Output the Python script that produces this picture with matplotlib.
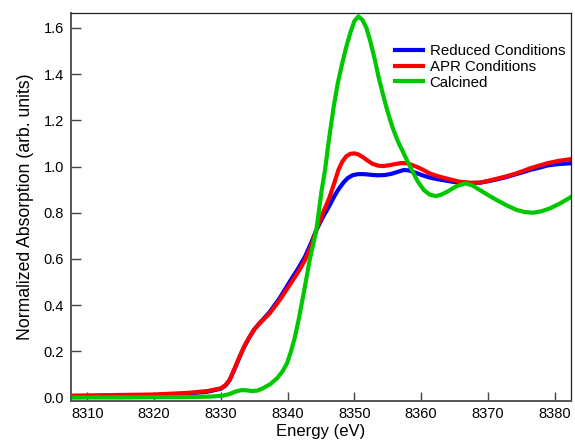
import matplotlib
matplotlib.use("Agg")
import matplotlib.pyplot as plt
from matplotlib.ticker import FormatStrFormatter

plt.rcParams['font.family'] = ['Liberation Sans', 'DejaVu Sans']

E_blue = [8307.5, 8310, 8315, 8320, 8325, 8328, 8330, 8330.7, 8331.3, 8332, 8332.8, 8333.5,
          8334.3, 8335, 8335.8, 8337.3, 8338.8, 8340.3, 8341.5, 8342.6, 8343.5, 8344.3, 8345.3,
          8346.3, 8347, 8347.7, 8348.4, 8349, 8349.7, 8350.5, 8351.5, 8352.5, 8353.5, 8354.5,
          8355.5, 8356.5, 8357.4, 8358.2, 8359, 8360.2, 8361.3, 8362.5, 8363.5, 8364.7,
          8365.8, 8367.3, 8368.8, 8370, 8371.3, 8372.7, 8374, 8375.2, 8376.3, 8377.7, 8379,
          8380.7, 8382.4]
A_blue = [0.005, 0.006, 0.008, 0.010, 0.017, 0.025, 0.038, 0.052, 0.075, 0.120, 0.175, 0.220,
          0.262, 0.295, 0.322, 0.370, 0.430, 0.501, 0.555, 0.610, 0.668, 0.725, 0.782,
          0.833, 0.872, 0.905, 0.932, 0.950, 0.962, 0.967, 0.967, 0.964, 0.962, 0.963,
          0.968, 0.977, 0.985, 0.983, 0.975, 0.962, 0.952, 0.945, 0.940, 0.934,
          0.930, 0.928, 0.930, 0.936, 0.944, 0.954, 0.965, 0.975, 0.985, 0.995, 1.005,
          1.011, 1.014]

E_red = [8307.5, 8310, 8315, 8320, 8325, 8328, 8330, 8330.7, 8331.3, 8332, 8332.8, 8333.5,
         8334.3, 8335, 8335.8, 8337.3, 8338.8, 8340.3, 8341.5, 8342.6, 8343.5, 8344.3, 8345.3,
         8346.3, 8347, 8347.6, 8348.2, 8348.8, 8349.4, 8350, 8350.6, 8351.3, 8352, 8352.7,
         8353.5, 8354.3, 8355.1, 8356, 8357, 8357.8, 8358.5, 8359.3, 8360, 8361.3, 8362.3,
         8363.3, 8364.5, 8365.8, 8367.3, 8368.8, 8370, 8371.3, 8372.7, 8374, 8375.2, 8376.3,
         8377.7, 8379, 8380.7, 8382.4]
A_red = [0.008, 0.009, 0.011, 0.013, 0.020, 0.028, 0.040, 0.054, 0.076, 0.122, 0.177, 0.222,
         0.263, 0.295, 0.321, 0.364, 0.422, 0.487, 0.540, 0.595, 0.655, 0.725, 0.800,
         0.869, 0.930, 0.985, 1.022, 1.045, 1.055, 1.057, 1.052, 1.040, 1.025, 1.012,
         1.004, 1.002, 1.005, 1.010, 1.015, 1.014, 1.008, 0.999, 0.990, 0.970, 0.960,
         0.952, 0.943, 0.934, 0.930, 0.930, 0.938, 0.947, 0.957, 0.968, 0.980, 0.992,
         1.004, 1.015, 1.025, 1.032]

E_green = [8307.5, 8315, 8325, 8328.5, 8330.3, 8331.3, 8332.2, 8333.1, 8333.9, 8334.6, 8335.5,
           8336.3, 8337.4, 8338.4, 8339.2, 8339.9, 8340.5, 8341.1, 8341.7, 8342.3, 8342.8,
           8343.3, 8343.8, 8344.3, 8345.1, 8345.6, 8346.2, 8346.9, 8347.5, 8348.2, 8348.8,
           8349.4, 8350.0, 8350.6, 8351.2, 8351.8, 8352.4, 8353.0, 8353.6, 8354.3, 8354.9,
           8355.7, 8356.5, 8357.5, 8358.5, 8359.5, 8360.4, 8361.3, 8362.2, 8363.0, 8363.9,
           8365.3, 8366.6, 8367.7, 8368.8, 8370.0, 8371.3, 8372.8, 8374.3, 8375.5, 8376.8,
           8378.0, 8379.3, 8380.8, 8382.4]
A_green = [0.000, 0.000, 0.002, 0.004, 0.008, 0.015, 0.026, 0.032, 0.031, 0.028, 0.030,
           0.040, 0.058, 0.083, 0.112, 0.148, 0.200, 0.263, 0.345, 0.436, 0.515,
           0.595, 0.660, 0.725, 0.898, 0.985, 1.120, 1.260, 1.360, 1.450, 1.520,
           1.580, 1.630, 1.650, 1.635, 1.600, 1.540, 1.470, 1.390, 1.310, 1.245,
           1.170, 1.110, 1.050, 0.990, 0.935, 0.898, 0.878, 0.872, 0.878, 0.891,
           0.915, 0.927, 0.918, 0.898, 0.877, 0.855, 0.832, 0.812, 0.803, 0.800,
           0.806, 0.819, 0.840, 0.867]

series = [
    ("Reduced Conditions", E_blue, A_blue, "#0000ff"),
    ("APR Conditions", E_red, A_red, "#ff0000"),
    ("Calcined", E_green, A_green, "#00c800"),
]

x_ticks = [8310, 8320, 8330, 8340, 8350, 8360, 8370, 8380]
y_ticks = [0.0, 0.2, 0.4, 0.6, 0.8, 1.0, 1.2, 1.4, 1.6]

fig = plt.figure(figsize=(5.75, 4.46), dpi=100)
ax = fig.add_axes([0.123, 0.102, 0.8695, 0.868])

for label, e, a, c in series:
    ax.plot(e, a, color=c, lw=3.0, label=label, solid_joinstyle='round')

ax.set_xlim(8307.5, 8382.4)
ax.set_ylim(-0.013, 1.663)
ax.set_xticks(x_ticks)
ax.set_yticks(y_ticks)
ax.yaxis.set_major_formatter(FormatStrFormatter('%.1f'))
ax.tick_params(direction='in', length=7, width=1.0, color='#444444', labelsize=10.5, pad=5)
ax.tick_params(axis='x', length=6.5)

for s in ['left', 'bottom']:
    ax.spines[s].set_color('#555555')
    ax.spines[s].set_linewidth(1.4)
for s in ['top', 'right']:
    ax.spines[s].set_color('#222222')
    ax.spines[s].set_linewidth(0.9)

ax.set_xlabel("Energy (eV)", fontsize=12, labelpad=2)
ax.set_ylabel("Normalized Absorption (arb. units)", fontsize=12.7, labelpad=7)

ax.legend(loc='upper left', bbox_to_anchor=(0.649, 0.921), frameon=False, fontsize=10.8,
          borderpad=0, borderaxespad=0, handlelength=1.85, handletextpad=0.45,
          labelspacing=0.12)

fig.savefig("out.png", dpi=100)
